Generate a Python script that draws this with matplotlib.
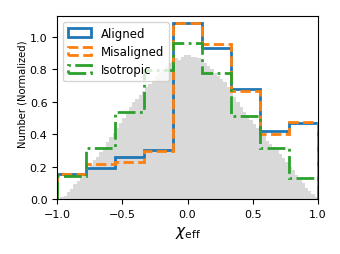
import numpy as np
import matplotlib
matplotlib.use("Agg")
import matplotlib.pyplot as plt

# coarse bins for the three spin models
edges = np.linspace(-1, 1, 10)
aligned = [0.156, 0.19, 0.261, 0.30, 1.085, 0.93, 0.679, 0.42, 0.467]
misaligned = [0.156, 0.218, 0.23, 0.294, 1.085, 0.959, 0.665, 0.403, 0.477]
isotropic = [0.144, 0.317, 0.535, 0.795, 0.961, 0.776, 0.514, 0.317, 0.128]

# fine grey background histogram
fine_edges = np.linspace(-1, 1, 81)
background = [
    0.00, 0.01, 0.02, 0.04, 0.06, 0.09, 0.11, 0.14,
    0.16, 0.19, 0.21, 0.24, 0.26, 0.29, 0.32, 0.35,
    0.38, 0.41, 0.44, 0.47, 0.50, 0.53, 0.57, 0.60,
    0.62, 0.64, 0.67, 0.69, 0.71, 0.73, 0.76, 0.78,
    0.80, 0.82, 0.84, 0.85, 0.87, 0.86, 0.88, 0.89,
    0.89, 0.88, 0.88, 0.87, 0.86, 0.84, 0.82, 0.80,
    0.78, 0.76, 0.74, 0.72, 0.69, 0.66, 0.63, 0.60,
    0.57, 0.54, 0.52, 0.49, 0.46, 0.44, 0.41, 0.39,
    0.36, 0.34, 0.32, 0.30, 0.28, 0.25, 0.23, 0.20,
    0.18, 0.15, 0.12, 0.10, 0.07, 0.05, 0.03, 0.01,
]

fig = plt.figure(figsize=(3.4, 2.55), dpi=100)
ax = fig.add_axes([0.168, 0.216, 0.767, 0.717])

ax.hist(fine_edges[:-1], bins=fine_edges, weights=background, color="#d9d9d9")
ax.hist(edges[:-1], bins=edges, weights=aligned, histtype="step", lw=2,
        color="C0", label="Aligned")
ax.hist(edges[:-1], bins=edges, weights=misaligned, histtype="step", lw=2,
        ls="--", color="C1", label="Misaligned")
ax.hist(edges[:-1], bins=edges, weights=isotropic, histtype="step", lw=2,
        ls="-.", color="C2", label="Isotropic")

ax.set_xlim(-1, 1)
ax.set_ylim(0, 1.13)
ax.set_xticks([-1, -0.5, 0, 0.5, 1])
ax.set_yticks([0, 0.2, 0.4, 0.6, 0.8, 1.0])
ax.tick_params(labelsize=8)
ax.set_xlabel(r"$\chi_{\rm eff}$", fontsize=11)
ax.set_ylabel("Number (Normalized)", fontsize=7.2)
ax.yaxis.set_label_coords(-0.115, 0.58)
ax.legend(loc="upper left", fontsize=8.5, labelspacing=0.45)

plt.savefig("out.png", dpi=100)
plt.close()
